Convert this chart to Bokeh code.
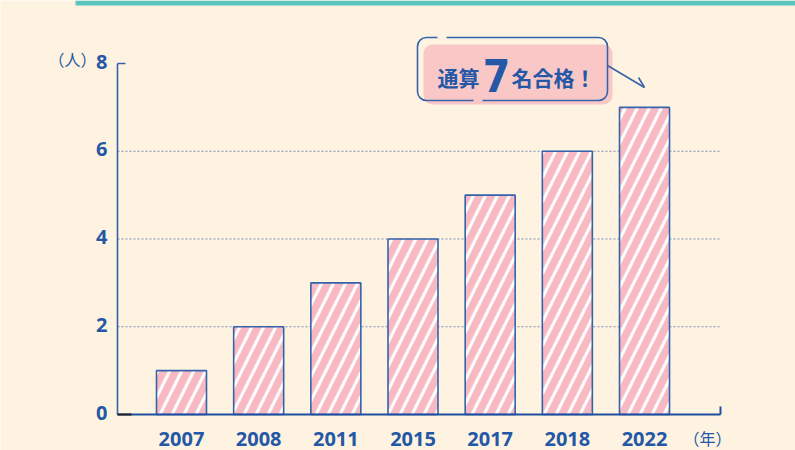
from bokeh.plotting import figure
from bokeh.models import Range1d
from bokeh.core.properties import value
from bokeh.embed import file_html
from bokeh.resources import INLINE

# ---- data ----
years = ["2007", "2008", "2011", "2015", "2017", "2018", "2022"]
passers = [1, 2, 3, 4, 5, 6, 7]
y_ticks = [0, 2, 4, 6, 8]
grid_vals = [2, 4, 6]
y_unit = "（人）"
x_unit = "（年）"
callout_pre = "通算"
callout_num = "7"
callout_post = "名合格！"

# ---- layout / style ----
W, H = 795, 450
X0, XS = 181.0, 77.17      # px of first bar centre, px per category
Y0, YS = 414.0, 43.875     # px of value 0, px per unit
BLUE = "#2458A6"
LINE = "#3563AB"
PINK = "#F7BAC2"
CREAM = "#FEF3E0"

def fx(px):
    return (px - X0) / XS

def fy(py):
    return (Y0 - py) / YS

p = figure(width=W, height=H, output_backend="svg", toolbar_location=None,
           x_range=Range1d(fx(0), fx(W)), y_range=Range1d(fy(H), fy(0)),
           min_border=0, outline_line_color=None,
           background_fill_color=CREAM, border_fill_color=CREAM)
p.axis.visible = False
p.grid.visible = False

xs = list(range(len(years)))
ax_left = fx(117)
ax_right = fx(720)

# teal top band
p.quad(left=[fx(75)], right=[fx(W)], top=[fy(0)], bottom=[fy(5)],
       fill_color="#5BC4BF", line_color=None)

# dotted grid
p.segment(x0=[ax_left] * len(grid_vals), x1=[ax_right] * len(grid_vals),
          y0=grid_vals, y1=grid_vals, line_color="#7F8FB5", line_width=1,
          line_dash="2 2")

# bars
p.vbar(x=xs, top=passers, bottom=0, width=50 / XS, fill_color=PINK,
       line_color=LINE, line_width=1.6, hatch_pattern="/", hatch_color="white",
       hatch_weight=3.2, hatch_scale=24, hatch_alpha=0.95)

# axes
p.segment(x0=[ax_left], x1=[ax_left], y0=[0], y1=[max(y_ticks)],
          line_color=LINE, line_width=1.6)
p.segment(x0=[ax_left], x1=[fx(125)], y0=[max(y_ticks)], y1=[max(y_ticks)],
          line_color=LINE, line_width=1.6)
p.segment(x0=[ax_left], x1=[ax_right], y0=[0], y1=[0],
          line_color="#1F4F9E", line_width=2.2)
p.segment(x0=[ax_left], x1=[fx(131)], y0=[0], y1=[0],
          line_color="#222222", line_width=2.2)
p.segment(x0=[ax_right], x1=[ax_right], y0=[0], y1=[fy(406)],
          line_color="#1F4F9E", line_width=2)

# tick labels
p.text(x=[fx(107)] * len(y_ticks), y=y_ticks, text=[str(v) for v in y_ticks],
       text_align="right", text_baseline="middle", text_color=BLUE,
       text_font=value("Noto Sans"), text_font_style="bold",
       text_font_size="20px", y_offset=-2)
p.text(x=[fx(72)], y=[max(y_ticks)], text=[y_unit], text_align="center",
       text_baseline="middle", text_color=BLUE,
       text_font=value("Noto Sans CJK JP"), text_font_size="16px", y_offset=-5)
p.text(x=xs, y=[fy(438)] * len(xs), text=years, text_align="center",
       text_baseline="middle", text_color=BLUE, text_font=value("Noto Sans"),
       text_font_style="bold", text_font_size="20px")
p.text(x=[fx(707)], y=[fy(437)], text=[x_unit], text_align="center",
       text_baseline="middle", text_color=BLUE,
       text_font=value("Noto Sans CJK JP"), text_font_size="16px")

# callout
p.quad(left=[fx(423)], right=[fx(612)], top=[fy(44)], bottom=[fy(104)],
       fill_color="#F9C8C6", line_color=None, border_radius=9)
p.quad(left=[fx(417)], right=[fx(607)], top=[fy(37)], bottom=[fy(100)],
       fill_color=None, line_color=LINE, line_width=1.6, border_radius=9)
p.segment(x0=[fx(437)], x1=[fx(446)], y0=[fy(37)], y1=[fy(37)],
          line_color=CREAM, line_width=3)
p.segment(x0=[fx(473)], x1=[fx(482)], y0=[fy(100)], y1=[fy(100)],
          line_color="#F9C8C6", line_width=3)
p.segment(x0=[fx(607), fx(638)], x1=[fx(644), fx(644)],
          y0=[fy(65), fy(77)], y1=[fy(87), fy(87)],
          line_color=LINE, line_width=1.6)
p.text(x=[fx(458)], y=[fy(76)], text=[callout_pre], text_align="center",
       text_baseline="middle", text_color=BLUE,
       text_font=value("Noto Sans CJK JP"), text_font_style="bold",
       text_font_size="21px")
p.text(x=[fx(496)], y=[fy(75)], text=[callout_num], text_align="center",
       text_baseline="middle", text_color=BLUE,
       text_font=value("DejaVu Sans Condensed"), text_font_style="bold",
       text_font_size="44px")
p.text(x=[fx(553)], y=[fy(76)], text=[callout_post], text_align="center",
       text_baseline="middle", text_color=BLUE,
       text_font=value("Noto Sans CJK JP"), text_font_style="bold",
       text_font_size="21px")

open("out.html", "w").write(file_html(p, INLINE))
